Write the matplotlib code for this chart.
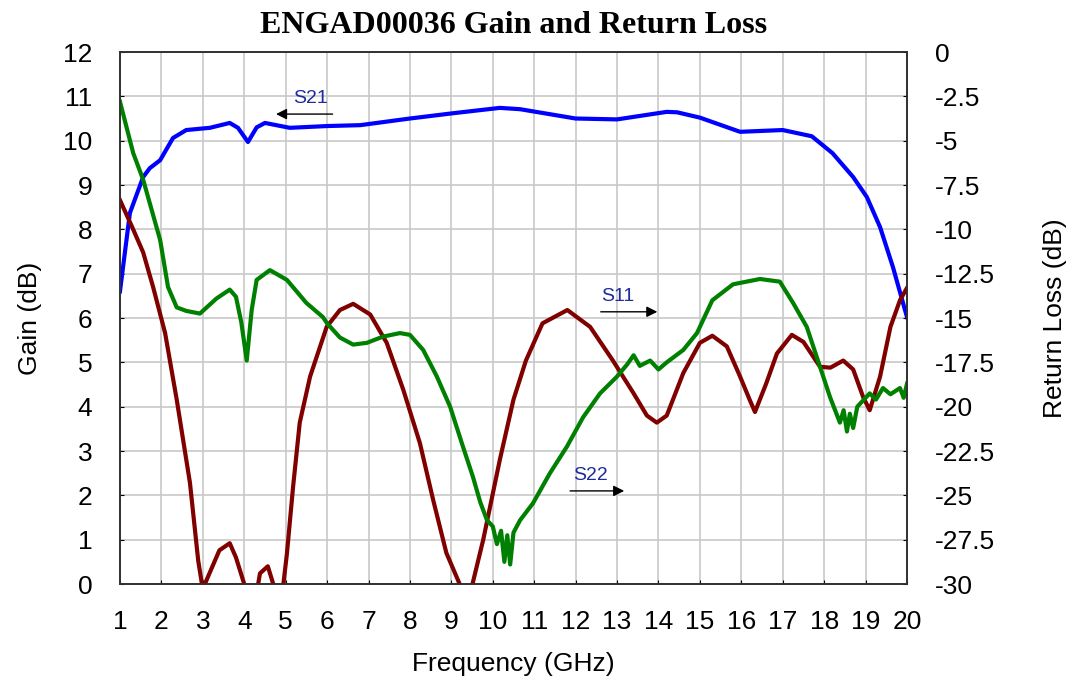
import numpy as np
import matplotlib
matplotlib.use("Agg")
import matplotlib.pyplot as plt

# S21 gain (dB), left axis
s21_f = [1.0, 1.24, 1.56, 1.72, 1.97, 2.28, 2.6, 3.17, 3.65, 3.85, 4.09, 4.3, 4.5,
         5.1, 6.0, 6.8, 8.0, 9.05, 10.17, 10.66, 12.0, 13.0, 14.2, 14.45, 15.0,
         15.97, 17.0, 17.7, 18.2, 18.7, 19.03, 19.35, 19.66, 20.0]
s21_db = [6.6, 8.37, 9.18, 9.38, 9.56, 10.06, 10.24, 10.29, 10.4, 10.29, 9.97, 10.3, 10.4,
          10.29, 10.33, 10.35, 10.5, 10.62, 10.74, 10.71, 10.5, 10.48, 10.65, 10.64, 10.52,
          10.2, 10.24, 10.1, 9.72, 9.18, 8.73, 8.05, 7.15, 6.02]

# S11 return loss (dB), right axis
s11_f = [1.0, 1.3, 1.56, 1.8, 2.09, 2.37, 2.69, 2.89, 3.0, 3.05, 3.4, 3.65, 3.8, 4.0,
         4.15, 4.3, 4.38, 4.57, 4.7, 4.8, 4.93, 5.03, 5.18, 5.34, 5.59, 5.99, 6.31,
         6.63, 7.04, 7.44, 7.84, 8.24, 8.56, 8.88, 9.2, 9.35, 9.5, 9.77, 10.17, 10.5,
         10.8, 11.2, 11.8, 12.35, 12.9, 13.4, 13.72, 13.96, 14.2, 14.6, 15.0, 15.3,
         15.65, 15.97, 16.2, 16.33, 16.6, 16.86, 17.22, 17.5, 17.9, 18.15, 18.46,
         18.7, 18.94, 19.1, 19.35, 19.6, 19.83, 20.0]
s11_db = [-8.35, -9.9, -11.3, -13.25, -15.85, -19.6, -24.3, -28.7, -30.3, -30.0, -28.1, -27.7,
          -28.5, -30.0, -31.0, -30.5, -29.4, -29.0, -30.0, -31.0, -30.3, -28.3, -24.5, -20.9,
          -18.3, -15.5, -14.55, -14.2, -14.8, -16.4, -19.05, -22.05, -25.25, -28.25, -30.0,
          -30.4, -30.1, -27.5, -23.0, -19.6, -17.4, -15.3, -14.55, -15.5, -17.4, -19.25,
          -20.5, -20.9, -20.5, -18.1, -16.4, -16.0, -16.6, -18.3, -19.6, -20.3, -18.7,
          -17.0, -15.95, -16.35, -17.75, -17.8, -17.4, -17.9, -19.45, -20.2, -18.3, -15.5,
          -14.0, -13.3]

# S22 return loss (dB), right axis
s22_f = [1.0, 1.32, 1.56, 1.97, 2.16, 2.37, 2.6, 2.93, 3.33, 3.65, 3.8, 3.93, 4.06, 4.18,
         4.3, 4.62, 5.03, 5.5, 5.9, 6.0, 6.31, 6.63, 6.96, 7.35, 7.76, 8.0, 8.32, 8.65,
         8.97, 9.28, 9.52, 9.7, 9.86, 10.0, 10.1, 10.2, 10.28, 10.35, 10.42, 10.5, 10.66,
         10.97, 11.38, 11.79, 12.18, 12.59, 13.0, 13.25, 13.4, 13.55, 13.8, 14.0, 14.2,
         14.6, 14.93, 15.3, 15.8, 16.45, 16.93, 17.25, 17.58, 17.9, 18.14, 18.38, 18.47,
         18.55, 18.62, 18.7, 18.8, 19.1, 19.25, 19.42, 19.6, 19.83, 19.92, 20.0]
s22_db = [-2.8, -5.7, -7.2, -10.6, -13.25, -14.4, -14.6, -14.75, -13.9, -13.4, -13.8, -15.25,
          -17.4, -14.55, -12.85, -12.3, -12.85, -14.15, -14.95, -15.3, -16.1, -16.5, -16.4,
          -16.05, -15.85, -15.95, -16.8, -18.3, -20.0, -22.25, -23.95, -25.4, -26.4, -26.75,
          -27.75, -27.0, -28.75, -27.25, -28.9, -27.1, -26.4, -25.45, -23.75, -22.25, -20.6,
          -19.25, -18.3, -17.6, -17.1, -17.7, -17.4, -17.9, -17.5, -16.8, -15.85, -14.0,
          -13.1, -12.8, -12.95, -14.15, -15.5, -17.75, -19.45, -20.9, -20.2, -21.4, -20.4,
          -21.2, -20.0, -19.25, -19.6, -18.95, -19.3, -18.95, -19.5, -18.7]

x_ticks = list(range(1, 21))
gain_ticks = list(range(0, 13))
rl_ticks = [-30 + 2.5 * i for i in range(13)]

plt.rcParams['font.family'] = ['Liberation Sans', 'DejaVu Sans']

fig = plt.figure(figsize=(10.73, 6.79), dpi=100)
ax = fig.add_axes([0.1118, 0.1399, 0.7335, 0.7835])
ax2 = ax.twinx()

ax.plot(s21_f, s21_db, color='#0000ff', lw=3)
ax2.plot(s11_f, s11_db, color='#800000', lw=3)
ax2.plot(s22_f, s22_db, color='#008000', lw=3)

ax.set_xlim(1, 20)
ax.set_ylim(0, 12)
ax2.set_ylim(-30, 0)
ax.set_xticks(x_ticks)
ax.set_yticks(gain_ticks)
ax2.set_yticks(rl_ticks)
ax2.set_yticklabels(['%g' % v for v in rl_ticks])

ax.grid(True, color='#c8c8c8', lw=1.2)
ax.set_axisbelow(True)
for a in (ax, ax2):
    a.tick_params(labelsize=19, length=3, direction='in')
    for s in a.spines.values():
        s.set_linewidth(1.2)
        s.set_color('#303030')
ax.tick_params(axis='x', pad=19)
ax.tick_params(axis='y', pad=20)
ax2.tick_params(axis='y', pad=20)

ax.set_xlabel('Frequency (GHz)', fontsize=19, labelpad=13)
ax.set_ylabel('Gain (dB)', fontsize=19)
ax.yaxis.set_label_coords(-0.099, 0.5)
ax2.set_ylabel('Return Loss (dB)', fontsize=19)
ax2.yaxis.set_label_coords(1.173, 0.5)

ax.set_title('ENGAD00036 Gain and Return Loss', fontsize=23, fontweight='bold',
             family='Liberation Serif', pad=14)

# curve labels with arrows
lab_color = '#1f2a9c'
arrow = dict(arrowstyle='-|>', color='black', lw=1.0, mutation_scale=16)
ax.annotate('', xy=(4.7, 10.6), xytext=(6.2, 10.6), arrowprops=arrow)
ax.text(5.6, 10.75, 'S21', color=lab_color, fontsize=14, ha='center', va='bottom')
ax.annotate('', xy=(14.04, 6.14), xytext=(12.54, 6.14), arrowprops=arrow)
ax.text(13.02, 6.3, 'S11', color=lab_color, fontsize=14, ha='center', va='bottom')
ax.annotate('', xy=(13.24, 2.1), xytext=(11.8, 2.1), arrowprops=arrow)
ax.text(12.35, 2.26, 'S22', color=lab_color, fontsize=14, ha='center', va='bottom')

fig.savefig('out.png', dpi=100)
